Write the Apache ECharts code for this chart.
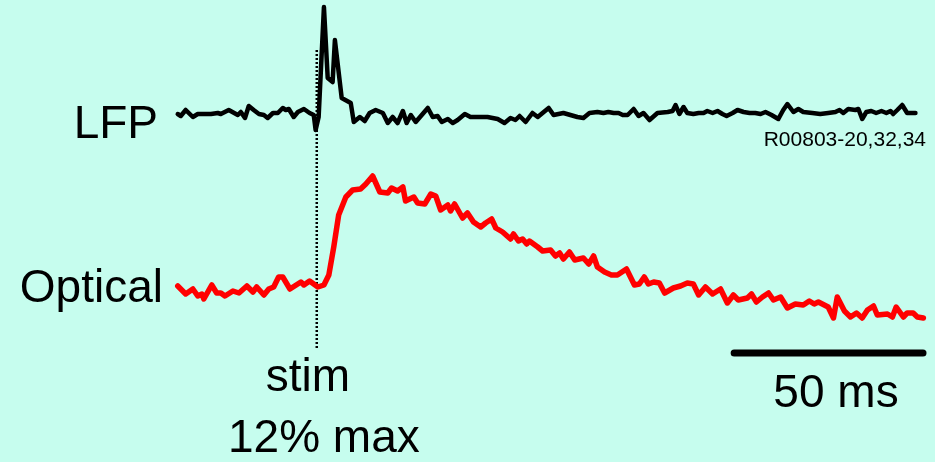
<!DOCTYPE html>
<html>
<head>
<meta charset="utf-8">
<script src="https://cdn.jsdelivr.net/npm/echarts@6/dist/echarts.min.js"></script>
<style>
  html, body { margin: 0; padding: 0; background: #c6fdee; }
  #main { width: 935px; height: 462px; }
</style>
</head>
<body>
<div id="main"></div>
<script>
// time in ms relative to stim, amplitude in arbitrary units
let lfpTime = [-36.8, -36.0, -34.7, -32.8, -31.5, -28.0, -26.2, -25.4, -23.3, -20.9, -20.1, -19.0, -18.0, -16.7, -15.3, -14.0,
  -13.0, -11.6, -10.3, -9.0, -8.2, -7.4, -6.1, -5.0, -3.4, -1.9, -0.8, -0.3, 0.5, 1.9, 2.9, 4.2, 4.8, 6.6, 9.0, 9.8,
  11.4, 12.7, 14.0, 15.6, 17.5, 18.8, 20.1, 21.4, 22.8, 23.8, 24.9, 26.2, 27.8, 29.4, 30.7, 32.0, 33.1, 34.7, 36.0, 37.3,
  39.2, 40.7, 42.6, 45.2, 47.9, 49.7, 51.3, 52.6, 53.7, 55.3, 57.1, 58.5, 60.1, 61.4, 62.7, 65.3, 69.0, 70.6, 72.2, 74.3,
  75.9, 77.2, 78.6, 79.9, 81.0, 82.3, 83.9, 85.2, 86.5, 88.1, 90.2, 92.9, 94.2, 95.0, 96.0, 97.1, 98.1, 99.7, 101.1, 102.4,
  103.4, 104.8, 106.1, 107.4, 108.5, 110.1, 111.4, 113.0, 114.6, 116.1, 117.5, 118.8, 120.4, 122.2, 123.5, 124.6, 125.1,
  126.2, 127.5, 128.8, 131.2, 133.3, 135.4, 137.3, 138.4, 139.4, 140.7, 142.6, 143.4, 144.4, 145.5, 146.8, 148.1, 149.5,
  150.8, 151.9, 152.6, 153.7, 155.0, 156.3, 158.5]
let lfpValue = [-1, -3, 3, -4, -1, -1, 0, -1, 3, -2, 1, -5, 7, 3, -1, -2,
  -5, 0, 0, 5, 3, 4, -4, 1, 4, 0, -2, -17, -4, 106, 35, 31, 73, 15, 10, -9,
  -4, -8, 0, 3, 0, -10, -4, -10, 2, -10, -2, -9, -2, 5, -4, -3, -9, -6, -10, -7,
  -1, -4, -4, -4, -6, -10, -5, -7, -3, -9, 0, -4, 1, 5, -2, 0, -4, -5, 0, 1,
  0, 1, 0, 0, -2, -2, 4, -3, 0, -7, 0, 1, 2, 8, -1, 6, 0, -1, 0, 0,
  2, 0, 2, -1, -3, 0, 3, 1, 0, 0, -1, 1, -2, -6, 3, 9, 8,
  1, 4, 1, 0, -1, 0, 1, 3, 0, 4, 3, 4, -6, 1, 2, 0, 2,
  0, 2, -1, 3, 8, 0, 0]

let optTime = [-36.8, -34.7, -32.8, -31.5, -30.4, -29.9, -27.8, -26.5, -25.4, -24.3, -22.2, -20.6, -18.5, -16.9, -15.9, -14.0,
  -12.7, -11.4, -10.1, -9.0, -7.1, -4.2, -3.4, -1.9, 0.3, 1.9, 3.2, 4.5, 5.8, 7.7, 9.5, 11.6, 13.0, 14.8, 16.7, 18.8,
  19.8, 21.4, 22.8, 23.5, 25.7, 26.7, 28.6, 30.2, 31.5, 32.8, 34.7, 35.4, 36.5, 38.6, 39.9, 41.5, 43.4, 44.7, 46.3, 47.4,
  49.2, 51.3, 52.1, 53.4, 54.5, 55.6, 56.3, 58.5, 59.8, 61.9, 63.2, 64.3, 65.3, 66.9, 68.3, 70.6, 72.0, 73.3, 74.3, 76.2,
  78.0, 79.6, 82.0, 84.1, 85.4, 86.7, 87.8, 89.2, 90.7, 92.1, 94.4, 96.3, 98.1, 99.7, 101.1, 102.9, 104.8, 106.9, 108.7,
  110.3, 111.6, 114.0, 115.1, 116.4, 118.0, 119.6, 120.9, 122.8, 124.6, 126.7, 128.8, 130.4, 131.7, 132.8, 135.4, 136.8,
  137.8, 139.7, 141.3, 142.9, 144.4, 145.8, 147.4, 148.4, 151.1, 152.4, 153.4, 155.3, 156.3, 157.9, 159.0, 160.6]
let optValue = [4, -4, 1, -6, -4, -9, 5, -3, -3, -6, -1, -3, 4, -2, 3, -5,
  1, 3, 13, 13, 1, 8, 5, 9, 3, 5, 15, 43, 75, 93, 100, 101, 106, 114, 98, 97,
  102, 99, 103, 89, 93, 87, 86, 96, 94, 80, 85, 79, 86, 72, 77, 68, 63, 67, 71, 62,
  58, 51, 56, 49, 51, 46, 49, 43, 39, 40, 34, 37, 31, 38, 30, 32, 26, 34, 23, 18,
  15, 15, 21, 5, 6, 13, 6, 8, 7, -3, 2, 4, 7, 6, -5, 3, -4, 1, -13,
  -5, -10, -8, -4, -12, -7, -3, -10, -7, -18, -14, -15, -11, -14, -12, -17, -28,
  -7, -21, -27, -23, -28, -20, -16, -25, -24, -27, -17, -27, -23, -23, -27, -28]

let stimTime = 0
let scaleBarStart = 110.5
let scaleBarMs = 50
let scaleBarLevel = -63

let traceLabels = ['LFP', 'Optical']
let stimLabels = ['stim', '12% max']
let scaleLabel = scaleBarMs + ' ms'
let recordingId = 'R00803-20,32,34'

function pairs(xs, ys) {
  let out = []
  for (let i = 0; i < xs.length; i++) {
    out.push([xs[i], ys[i]])
  }
  return out
}

let chart = echarts.init(document.getElementById('main'))
let font = '"Liberation Sans", Arial, sans-serif'

let hiddenX = (i) => ({ type: 'value', gridIndex: i, min: -37, max: 160.5, show: false })

let option = {
  backgroundColor: '#c6fdee',
  animation: false,
  grid: [
    { left: 177, right: 12, top: 3, height: 140 },    // LFP
    { left: 177, right: 12, top: 160, height: 200 },  // optical + scale bar
    { left: 177, right: 12, top: 48, height: 300 }    // stim marker
  ],
  xAxis: [hiddenX(0), hiddenX(1), hiddenX(2)],
  yAxis: [
    { type: 'value', gridIndex: 0, min: -30, max: 110, show: false },
    { type: 'value', gridIndex: 1, min: -70, max: 130, show: false },
    { type: 'value', gridIndex: 2, min: 0, max: 1, show: false }
  ],
  series: [
    {
      name: 'stim',
      type: 'line',
      xAxisIndex: 2, yAxisIndex: 2,
      data: [[stimTime, 0], [stimTime, 1]],
      showSymbol: false,
      lineStyle: { color: '#000', width: 2.5, type: [2, 2] },
      z: 1
    },
    {
      name: 'LFP',
      type: 'line',
      xAxisIndex: 0, yAxisIndex: 0,
      data: pairs(lfpTime, lfpValue),
      showSymbol: false,
      lineStyle: { color: '#000', width: 4.5, join: 'round', cap: 'round' },
      z: 3
    },
    {
      name: 'Optical',
      type: 'line',
      xAxisIndex: 1, yAxisIndex: 1,
      data: pairs(optTime, optValue),
      showSymbol: false,
      lineStyle: { color: '#ff0000', width: 5.5, join: 'round', cap: 'round' },
      z: 3
    },
    {
      name: 'scale',
      type: 'line',
      xAxisIndex: 1, yAxisIndex: 1,
      data: [[scaleBarStart, scaleBarLevel], [scaleBarStart + scaleBarMs, scaleBarLevel]],
      showSymbol: false,
      lineStyle: { color: '#000', width: 7, cap: 'round' },
      z: 3
    }
  ],
  graphic: [
    { type: 'text', x: 158, y: 125, style: { text: traceLabels[0], font: '46px ' + font, fill: '#000', textAlign: 'right', verticalAlign: 'middle' } },
    { type: 'text', x: 163, y: 289, style: { text: traceLabels[1], font: '46px ' + font, fill: '#000', textAlign: 'right', verticalAlign: 'middle' } },
    { type: 'text', x: 308, y: 378, style: { text: stimLabels[0], font: '46px ' + font, fill: '#000', textAlign: 'center', verticalAlign: 'middle' } },
    { type: 'text', x: 228, y: 439, style: { text: stimLabels[1], font: '46px ' + font, fill: '#000', textAlign: 'left', verticalAlign: 'middle' } },
    { type: 'text', x: 836, y: 394, style: { text: scaleLabel, font: '46px ' + font, fill: '#000', textAlign: 'center', verticalAlign: 'middle' } },
    { type: 'text', x: 926, y: 140, style: { text: recordingId, font: '21px ' + font, fill: '#000', textAlign: 'right', verticalAlign: 'middle' } }
  ]
}

chart.setOption(option)
</script>
</body>
</html>
